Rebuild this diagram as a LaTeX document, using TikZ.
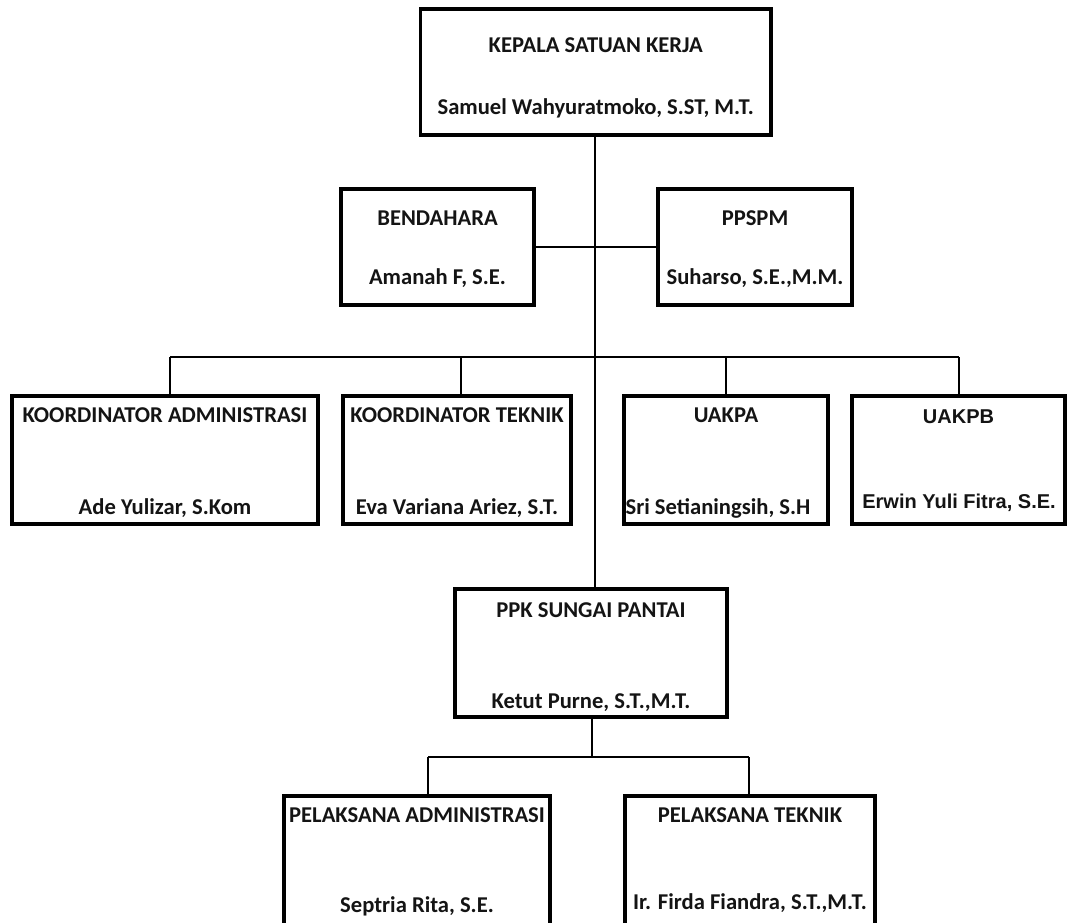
\documentclass[tikz,border=0pt]{standalone}
\usepackage{fontspec}
\newfontfamily\calib{Carlito}
\newfontfamily\arialf{Liberation Sans}
\begin{document}
\begin{tikzpicture}[x=1pt,y=-1pt,
  box/.style={draw=black,line width=3.6pt,fill=white,inner sep=0pt,outer sep=0pt},
  conn/.style={draw=black,line width=2pt},
  lbl/.style={inner sep=0pt,font=\calib\bfseries\fontsize{22.6}{26}\selectfont,text=black!92},
  albl/.style={inner sep=0pt,font=\arialf\bfseries\fontsize{20}{24}\selectfont,text=black!92}]
\useasboundingbox (0,0) rectangle (1067,922);
\clip (0,0) rectangle (1067,922);
\fill[white] (0,0) rectangle (1067,922);
% boxes
\node[box,minimum width=350.5pt,minimum height=126pt] (top) at (595.75,72) {};
\node[box,minimum width=193pt,minimum height=116pt] (bend) at (437.5,247) {};
\node[box,minimum width=194pt,minimum height=116pt] (ppspm) at (755,247) {};
\node[box,minimum width=306pt,minimum height=128pt] (ka) at (165,460) {};
\node[box,minimum width=228pt,minimum height=128pt] (kt) at (457,460) {};
\node[box,minimum width=204pt,minimum height=128pt] (uakpa) at (726,460) {};
\node[box,minimum width=213pt,minimum height=128pt] (uakpb) at (958.5,460) {};
\node[box,minimum width=272pt,minimum height=128pt] (ppk) at (591,653) {};
\node[box,minimum width=266pt,minimum height=140pt] (pa) at (417,866) {};
\node[box,minimum width=250pt,minimum height=140pt] (pt) at (750,866) {};
% texts
\node[lbl] (topt) at (595.75,45) {KEPALA SATUAN KERJA};
\node[lbl] (topn) at (595.75,108) {Samuel Wahyuratmoko, S.ST, M.T.};
\node[lbl] (bendt) at (437.5,218) {BENDAHARA};
\node[lbl] (bendn) at (437.5,278) {Amanah F, S.E.};
\node[lbl] (ppspmt) at (755,218) {PPSPM};
\node[lbl] (ppspmn) at (755,278) {Suharso, S.E.,M.M.};
\node[lbl] (kat) at (165,415) {KOORDINATOR ADMINISTRASI};
\node[lbl] (kan) at (165,508) {Ade Yulizar, S.Kom};
\node[lbl] (ktt) at (457,415) {KOORDINATOR TEKNIK};
\node[lbl] (ktn) at (457,508) {Eva Variana Ariez, S.T.};
\node[lbl] (uakpat) at (726,415) {UAKPA};
\node[lbl] (uakpan) at (718,508) {Sri Setianingsih, S.H};
\node[albl] (uakpbt) at (958.5,417) {UAKPB};
\node[albl] (uakpbn) at (959,503) {Erwin Yuli Fitra, S.E.};
\node[lbl] (ppkt) at (591,610) {PPK SUNGAI PANTAI};
\node[lbl] (ppkn) at (591,703) {Ketut Purne, S.T.,M.T.};
\node[lbl] (pat) at (417,815) {PELAKSANA ADMINISTRASI};
\node[lbl] (pan) at (417,906) {Septria Rita, S.E.};
\node[lbl] (ptt) at (750,815) {PELAKSANA TEKNIK};
\node[lbl] (ptn) at (750,903) {Ir. Firda Fiandra, S.T.,M.T.};
% coordinates
\coordinate (bus) at (595,357);
\coordinate (d1) at (170,357);
\coordinate (d2) at (461,357);
\coordinate (d3) at (726,357);
\coordinate (d4) at (959,357);
\coordinate (lbus) at (592,757);
\coordinate (e1) at (428,757);
\coordinate (e2) at (749,757);
% connectors
\draw[conn] (top.south -| bus) -- (ppk.north -| bus);
\draw[conn] (bend.east) -- (ppspm.west);
\draw[conn] (d1) -- (d4);
\draw[conn] (d1) -- (d1 |- ka.north);
\draw[conn] (d2) -- (d2 |- kt.north);
\draw[conn] (d3) -- (d3 |- uakpa.north);
\draw[conn] (d4) -- (d4 |- uakpb.north);
\draw[conn] (ppk.south -| lbus) -- (lbus);
\draw[conn] (e1) -- (e2);
\draw[conn] (e1) -- (e1 |- pa.north);
\draw[conn] (e2) -- (e2 |- pt.north);
\end{tikzpicture}
\end{document}
